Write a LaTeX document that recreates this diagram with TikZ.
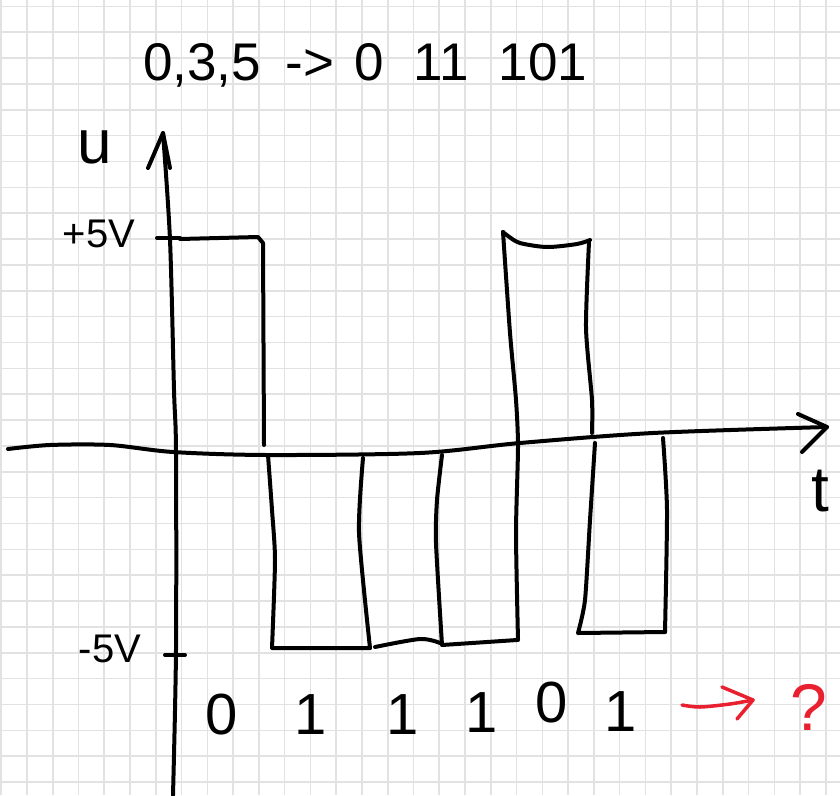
\documentclass[tikz,border=0pt]{standalone}
\usepackage{fontspec}
\usepackage{graphicx}
\setmainfont{Liberation Sans}
\definecolor{gridc}{HTML}{E2E2E2}
\definecolor{redpen}{HTML}{E8202F}
\begin{document}
\begin{tikzpicture}[x=1pt,y=-1pt,
  gridline/.style={gridc, line width=1.6pt},
  ink/.style={black, line width=4pt, line cap=round, line join=round},
  redink/.style={redpen, line width=3.5pt, line cap=round, line join=round},
  hand/.style={inner sep=0pt, anchor=base},
  title/.style={hand, font=\fontsize{53}{53}\selectfont},
  bit/.style={hand, font=\fontsize{58}{58}\selectfont},
  volt/.style={hand, font=\fontsize{40}{40}\selectfont},
]
\useasboundingbox (0,0) rectangle (840,795);
\fill[white] (0,0) rectangle (840,795);
% grid paper
\foreach \k in {0,...,32} \draw[gridline] ({1.2+25.77*\k},0) -- ({1.2+25.77*\k},795);
\foreach \k in {0,...,30} \draw[gridline] (0,{6.3+25.86*\k}) -- (840,{6.3+25.86*\k});

% title
\node[title] (t1) at (202,80) {0,3,5};
\node[title] (t2) at (310,80) {->};
\node[title] (t3) at (369,80) {0};
\node[title] (t4) at (441,80) {11};
\node[title] (t5) at (543,80) {101};

% u axis
\coordinate (uTip) at (163,133);
\draw[ink] plot[smooth, tension=0.5] coordinates {(173,795) (176,650) (176,452) (174,390) (170,240) (uTip)};
\draw[ink] (148,168) -- (uTip) -- (170,168);
\node[hand, font=\fontsize{62}{62}\selectfont] (ulab) at (95,163) {u};

% t axis
\coordinate (tTip) at (827,427);
\draw[ink] plot[smooth, tension=0.5] coordinates {(8,449) (50,445) (110,445) (173,452) (267,455) (420,453) (520,443) (653,433) (tTip)};
\draw[ink] (798,414) -- (tTip) -- (802,452);
\node[hand, font=\fontsize{64}{64}\selectfont] (tlab) at (820,511) {t};

% ticks and voltage labels
\draw[ink] (157,238) -- (180,238);
\draw[ink] (165,655) -- (185,655);
\node[volt] (plus) at (99,247) {+5V};
\node[volt] (minus) at (110,662) {-5V};

% waveform
\draw[ink] (180,239) -- (258,237) -- (263,243) -- (264,445);
\draw[ink] plot[smooth, tension=0.4] coordinates {(268,455) (272,510) (275,560) (272,648)} -- (370,648);
\draw[ink] plot[smooth, tension=0.4] coordinates {(363,458) (359,533) (370,648)};
\draw[ink] plot[smooth, tension=0.5] coordinates {(375,647) (420,639) (440,643)};
\draw[ink] plot[smooth, tension=0.4] coordinates {(442,455) (437,500) (436,543) (442,645)} -- (517,640);
\draw[ink] plot[smooth, tension=0.4] coordinates {(503,232) (510,333) (516,400) (518,447) (516,533) (518,640)};
\draw[ink] plot[smooth, tension=0.5] coordinates {(503,232) (508,236) (520,243) (547,247) (577,244) (590,240)};
\draw[ink] plot[smooth, tension=0.4] coordinates {(589,242) (586,328) (592,400) (592,433)};
\draw[ink] plot[smooth, tension=0.4] coordinates {(595,443) (590,520) (585,600) (578,633)} -- (665,632);
\draw[ink] plot[smooth, tension=0.4] coordinates {(663,438) (667,510) (665,632)};

% bits
\node[bit] (b1) at (222,734) {0};
\node[bit] (b2) at (311,734) {1};
\node[bit] (b3) at (403,734) {1};
\node[bit] (b4) at (482,732) {1};
\node[bit] (b5) at (552,722) {0};
\node[bit] (b6) at (621,731) {1};

% red arrow and question mark
\coordinate (rs) at (682,705);
\coordinate (re) at (753,700);
\draw[redink] plot[smooth, tension=0.5] coordinates {(rs) (700,707) (730,704) (re)};
\draw[redink] (722,687) -- (re) -- (737,719);
\node[hand, text=redpen, font=\fontsize{66}{66}\selectfont] (q) at (809,730) {?};
\end{tikzpicture}
\end{document}
